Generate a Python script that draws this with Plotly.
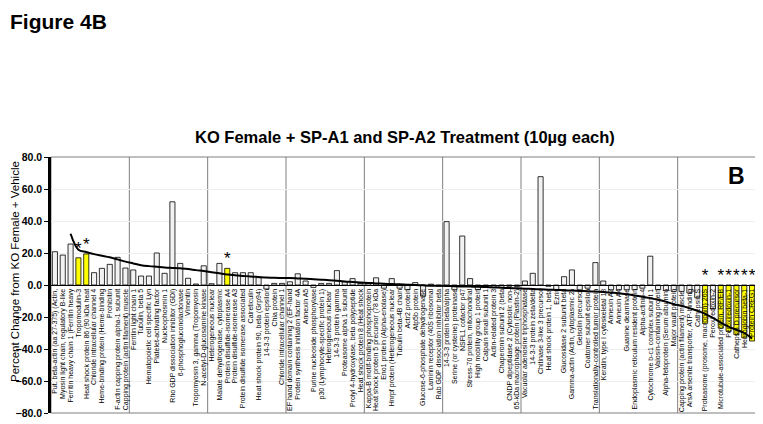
import plotly.graph_objects as go

# protein labels (as truncated on the original axis)
proteins = [
    "Put. beta-actin (aa 27-375) (Actin,", "Myosin light chain, regulatory B-like",
    "Ferritin heavy chain 1 (Ferritin heavy", "Tropomodulin-3",
    "Heat shock protein 86 (90 kDa heat", "Chloride intracellular channel 4",
    "Heme-binding protein (Heme-binding", "Prohibitin",
    "F-actin capping protein alpha-1 subunit", "Capping protein (actin filament) muscle",
    "Ferritin light chain 1", "Tubulin, beta 5", "Hematopoietic cell specific Lyn",
    "Platelet-activating factor", "Nucleophosmin 1", "Rho GDP dissociation inhibitor (GDI)",
    "6-phosphogluconolactonase", "Vimentin", "Tropomyosin 3, gamma (Tropomyosin",
    "N-acetyl-D-glucosamine kinase",
    "Heterogeneous nuclear", "Malate dehydrogenase, cytoplasmic",
    "Protein disulfide-isomerase A4", "Protein disulfide-isomerase A3",
    "Protein disulfide isomerase associated", "Calreticulin",
    "Heat shock protein 90, beta (Grp94)", "14-3-3 protein epsilon", "Chia protein",
    "Chloride intracellular channel 1",
    "EF hand domain containing 2 (EF-hand", "Protein synthesis initiation factor 4A",
    "Annexin A5", "Purine nucleoside phosphorylase", "p30 (Lymphocyte-specific protein 1)",
    "Heterogeneous nuclear ", "14-3-3 protein gamma", "Proteasome alpha 1 subunit",
    "Prolyl 4-hydroxylase, beta polypeptide", "Heat shock protein 8 (Heat shock",
    "Kappa-B motif-binding phosphoprotein", "Heat shock protein 5 precursor (78 kDa",
    "Eno1 protein (Alpha-enolase)", "Hnrpf protein (Heterogeneous nuclear",
    "Tubulin beta-4B chain", "Actr2 protein", "Atp5b protein",
    "Glucose-6-phosphate dehydrogenase", "Laminin receptor (40S ribosomal",
    "Rab GDP dissociation inhibitor beta",
    "14-3-3 protein beta/alpha", "Serine (or cysteine) proteinase", "NSFL1 cofactor p47",
    "Stress-70 protein, mitochondrial", "High mobility group 1 protein",
    "Calpain small subunit 1", "Actin-related protein 3", "Chaperonin subunit 2 (beta",
    "CNDP dipeptidase 2 (Cytosolic non-", "65-kDa macrophage protein (Plastin-2)",
    "Vacuolar adenosine triphosphatase", "14-3-3 protein zeta/delta",
    "Chitinase 3-like 3 precursor", "Heat shock protein 1, beta", "Ezrin",
    "Glucosidase 2 subunit beta", "Gamma-actin (Actin, cytoplasmic 2)",
    "Gelsolin precursor", "Coatomer subunit epsilon",
    "Translationally-controlled tumor protein",
    "Keratin, type I cytoskeletal 18", "Annexin A2", "Annexin A4", "Guanine deaminase",
    "Endoplasmic reticulum resident protein", "Alpha-actinin-4",
    "Cytochrome b-c1 complex subunit 1", "Valosin-containing protein",
    "Alpha-fetoprotein (Serum albumin)", "Major vault protein",
    "Capping protein (actin filament) muscle ", "ArsA arsenite transporter, ATP-binding",
    "Cathepsin S", "Proteasome (prosome, macropain) 26S", "Peroxiredoxin-2",
    "Microtubule-associated protein, RP/EB", "Peroxiredoxin-1", "Cathepsin D precursor",
    "Hemoglobin beta-1", "Protein CREG1",
]

# percent change vs KO female + vehicle
pct_change = [
    20.8, 18.7, 25.6, 17.0, 19.4, 7.7, 10.4, 12.9, 17.3, 10.6,
    9.4, 5.6, 5.6, 20.0, 7.3, 52.0, 13.5, 4.2, 0.6, 12.0,
    0.8, 13.5, 10.4, 7.7, 7.7, 7.7, 4.6, -2.5, 1.0, 1.0,
    2.0, 7.0, 2.5, -1.5, 1.0, 1.0, 9.0, 2.0, 4.0, 1.0,
    1.0, 4.5, -2.0, 4.0, -2.0, -3.0, 1.5, -7.0, 0.5, -0.8,
    39.6, -3.0, 30.6, 4.0, -3.0, -1.0, -1.5, -1.5, -0.8, -1.0,
    2.5, 7.3, 67.7, -0.8, -3.0, 5.2, 9.4, -3.0, -2.0, 14.0,
    2.5, -3.0, -3.0, -3.0, -3.0, -2.0, 18.0, -3.0, -3.5, -4.0,
    -4.0, -5.0, -8.0, -24.0, -15.0, -27.0, -29.0, -31.0, -33.0, -35.0,
]

# significance marks
signif = [""] * 90
for i in [3, 4, 22, 83, 85, 86, 87, 88, 89]:
    signif[i] = "*"

# smoothed trend line
trend = [
    None, None, 32.0, 22.0, 20.6, 19.3, 18.3, 17.3, 16.0, 14.6,
    13.5, 12.4, 11.8, 11.4, 11.0, 10.7, 10.4, 10.0, 9.3, 8.7,
    8.0, 7.3, 6.6, 6.1, 5.7, 5.3, 5.0, 4.7, 4.5, 4.4,
    4.3, 4.1, 3.9, 3.6, 3.3, 3.0, 2.6, 2.2, 1.9, 1.6,
    1.3, 1.0, 0.8, 0.6, 0.4, 0.2, 0.0, -0.2, -0.4, -0.5,
    -0.6, -0.8, -0.9, -1.0, -1.1, -1.3, -1.5, -1.7, -1.9, -2.1,
    -2.3, -2.5, -2.7, -2.9, -3.1, -3.3, -3.5, -3.7, -3.9, -4.1,
    -4.4, -4.8, -5.2, -5.8, -6.5, -7.3, -8.2, -9.2, -10.4, -12.0,
    -13.0, -14.5, -16.0, -18.0, -20.5, -23.5, -26.0, -28.0, -30.0, -33.5,
]

FONT = "Arial, Liberation Sans, sans-serif"
idx = list(range(len(proteins)))
colors = ["#ffff00" if s else "#f2f2f2" for s in signif]

fig = go.Figure()
fig.add_trace(go.Bar(x=idx, y=pct_change, marker_color=colors,
                     marker_line_color="black", marker_line_width=0.8,
                     showlegend=False))
fig.add_trace(go.Scatter(x=idx, y=trend, mode="lines", line_shape="spline",
                         line=dict(color="black", width=2), showlegend=False))
star_x = [i for i in idx if signif[i]]
fig.add_trace(go.Scatter(x=star_x, y=[max(pct_change[i], 0) for i in star_x],
                         text=[signif[i] for i in star_x], mode="text",
                         textposition="top center", cliponaxis=False,
                         textfont=dict(family=FONT, size=17, color="black"),
                         showlegend=False))

# group separators every 10 proteins
for k in range(10, len(proteins), 10):
    fig.add_shape(type="line", xref="x", yref="paper", x0=k - 0.5, x1=k - 0.5,
                  y0=0, y1=1, line=dict(color="#7f7f7f", width=1), layer="below")
fig.add_shape(type="rect", xref="paper", yref="paper", x0=0, x1=1, y0=0, y1=1,
              line=dict(color="#7f7f7f", width=1), layer="below")

# page body adds an 8px margin, so the figure is 8px smaller than the window
fig.update_layout(
    width=755, height=416,
    margin=dict(l=43, r=7, t=149, b=11),
    plot_bgcolor="white", paper_bgcolor="white",
    bargap=0.35,
    font=dict(family=FONT, color="black"),
    xaxis=dict(range=[-0.5, len(proteins) - 0.5], tickmode="array", tickvals=idx,
               ticktext=proteins, tickangle=-90, tickfont=dict(size=7),
               anchor="free", position=0.5, showline=True, linecolor="black",
               linewidth=1, showgrid=False, zeroline=False, automargin=False,
               ticks=""),
    yaxis=dict(range=[-80, 80], dtick=20, tickformat=".1f", showline=True,
               linecolor="black", linewidth=2.5, ticks="outside", ticklen=4,
               tickcolor="black", tickfont=dict(size=10.5, weight="bold"),
               showgrid=True, gridcolor="#eeeeee", zeroline=False, automargin=False),
)

fig.add_annotation(text="<b>Figure 4B</b>", xref="paper", yref="paper",
                   x=(9 - 51) / 705, y=(413 - 9) / 256, xanchor="left",
                   yanchor="top", showarrow=False, font=dict(size=21),
                   borderpad=0)
fig.add_annotation(text="<b>KO Female + SP-A1 and SP-A2 Treatment (10µg each)</b>",
                   xref="paper", yref="paper", x=(405 - 51) / 705,
                   y=(413 - 137) / 256, xanchor="center", yanchor="middle",
                   showarrow=False, font=dict(size=16.5))
fig.add_annotation(text="<b>B</b>", xref="paper", yref="paper",
                   x=(736 - 51) / 705, y=(413 - 176) / 256,
                   xanchor="center", yanchor="middle", showarrow=False,
                   font=dict(size=23))
fig.add_annotation(text="Percent Change from KO Female + Vehicle", xref="paper",
                   yref="paper", x=(15 - 51) / 705, y=(413 - 272) / 256,
                   textangle=-90, xanchor="center", yanchor="middle",
                   showarrow=False, font=dict(size=11.5), borderpad=0)

fig.write_html("out.html")
